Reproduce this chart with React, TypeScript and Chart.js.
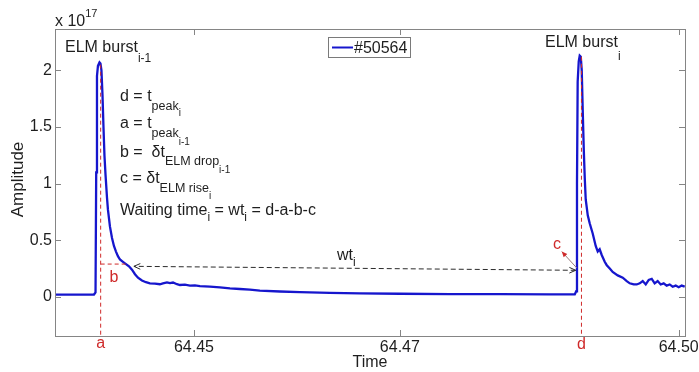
import React, { useEffect, useRef } from "react";
import { Chart, registerables } from "chart.js";

Chart.register(...registerables);

// ---------------- data ----------------
const SERIES_LABEL = "#50564";

const times = [
  64.43567, 64.43722, 64.43825, 64.43969, 64.43985, 64.43992, 64.44, 64.4401, 64.44026, 64.44036,
  64.44046, 64.44057, 64.44067, 64.44077, 64.44088, 64.44103, 64.44113, 64.44134, 64.44155, 64.44175,
  64.44196, 64.44216, 64.44237, 64.44268, 64.44299, 64.4433, 64.44361, 64.44392, 64.44423, 64.44464,
  64.44505, 64.44546, 64.44598, 64.44649, 64.4468, 64.44722, 64.44753, 64.44784, 64.44825, 64.44856,
  64.44907, 64.44959, 64.4501, 64.45062, 64.45165, 64.45268, 64.45371, 64.45474, 64.45577, 64.4568,
  64.45887, 64.46093, 64.46402, 64.46711, 64.47124, 64.47639, 64.48155, 64.4867, 64.48928, 64.48943,
  64.48951, 64.48958, 64.48969, 64.48979, 64.4899, 64.49, 64.4901, 64.49021, 64.49031, 64.49041,
  64.49062, 64.49082, 64.49113, 64.49144, 64.49165, 64.49185, 64.49206, 64.49237, 64.49258, 64.49289,
  64.49319, 64.49371, 64.49423, 64.49464, 64.49495, 64.49536, 64.49567, 64.49598, 64.49629, 64.4966,
  64.49691, 64.49722, 64.49752, 64.49783, 64.49814, 64.49845, 64.49876, 64.49907, 64.49938, 64.49969,
  64.5, 64.50031, 64.50062,
];

const amplitudes = [
  0.02, 0.021, 0.02, 0.021, 0.04, 1.1, 1.95, 2.04, 2.07, 2.06,
  2.0, 1.78, 1.5, 1.25, 1.08, 0.88, 0.77, 0.62, 0.52, 0.45,
  0.4, 0.36, 0.33, 0.31, 0.29, 0.27, 0.24, 0.2, 0.17, 0.145,
  0.13, 0.12, 0.118, 0.112, 0.12, 0.128, 0.122, 0.127, 0.112, 0.105,
  0.108, 0.1, 0.102, 0.095, 0.09, 0.085, 0.075, 0.07, 0.064, 0.056,
  0.048, 0.042, 0.036, 0.031, 0.028, 0.025, 0.024, 0.022, 0.022, 0.05,
  1.0, 1.9, 2.08, 2.13, 2.12, 2.0, 1.65, 1.3, 1.05, 0.86,
  0.72, 0.65, 0.56, 0.45, 0.4, 0.42, 0.37, 0.31, 0.28, 0.25,
  0.22, 0.19, 0.17, 0.14, 0.12, 0.11, 0.11, 0.12, 0.14, 0.11,
  0.15, 0.16, 0.12, 0.14, 0.11, 0.12, 0.1, 0.11, 0.09, 0.1,
  0.085, 0.1, 0.09,
];

const xTickValues = [64.45, 64.47124, 64.5];
const yTickValues = [0, 0.5, 1, 1.5, 2];
const xMin = 64.43567;
const xMax = 64.50065;
const yMin = -0.345;
const yMax = 2.365;
const exponent = "17";

// annotation anchors (data coordinates)
const tA = 64.44038;
const tD = 64.48997;
const peakA = 2.05;
const peakD = 2.12;
const bLevel = 0.29;
const bEnd = 64.4432;
const wtRight = [64.48938, 0.235];
const wtLeft = [64.44381, 0.27];
const cFrom = [64.48948, 0.256];
const cTo = [64.48794, 0.4];

// ---------------- drawing helpers ----------------
const FONT = '"Liberation Sans", Arial, Helvetica, sans-serif';
const TEXT = "#1e1e1e";
const RED = "#cf2a2a";
const BLUE = "rgb(22,22,205)";

type Seg = [string, number, number];

function drawRich(ctx: CanvasRenderingContext2D, x: number, y: number, segs: Seg[], color: string) {
  ctx.fillStyle = color;
  ctx.textAlign = "left";
  ctx.textBaseline = "alphabetic";
  let cx = x;
  for (const [t, size, dy] of segs) {
    ctx.font = `${size}px ${FONT}`;
    ctx.fillText(t, cx, y + dy);
    cx += ctx.measureText(t).width;
  }
}

function arrowHead(
  ctx: CanvasRenderingContext2D,
  fx: number,
  fy: number,
  tx: number,
  ty: number,
  len: number,
  filled: boolean
) {
  const ang = Math.atan2(ty - fy, tx - fx);
  const a1 = ang + Math.PI - 0.42;
  const a2 = ang + Math.PI + 0.42;
  ctx.beginPath();
  ctx.moveTo(tx + len * Math.cos(a1), ty + len * Math.sin(a1));
  ctx.lineTo(tx, ty);
  ctx.lineTo(tx + len * Math.cos(a2), ty + len * Math.sin(a2));
  if (filled) {
    ctx.closePath();
    ctx.fill();
  } else {
    ctx.stroke();
  }
}

const annotatePlugin = {
  id: "annotate",
  afterDraw(chart: any) {
    const ctx: CanvasRenderingContext2D = chart.ctx;
    const ca = chart.chartArea;
    const xs = chart.scales.x;
    const ys = chart.scales.y;
    const X = (v: number) => xs.getPixelForValue(v);
    const Y = (v: number) => ys.getPixelForValue(v);

    ctx.save();

    // axes box
    ctx.setLineDash([]);
    ctx.strokeStyle = "#858585";
    ctx.lineWidth = 1;
    ctx.strokeRect(Math.round(ca.left) + 0.5, Math.round(ca.top) + 0.5, Math.round(ca.width), Math.round(ca.height));

    // inward ticks on all four sides
    ctx.beginPath();
    for (const v of xTickValues) {
      const px = Math.round(X(v)) + 0.5;
      ctx.moveTo(px, ca.bottom);
      ctx.lineTo(px, ca.bottom - 6);
      ctx.moveTo(px, ca.top);
      ctx.lineTo(px, ca.top + 6);
    }
    for (const v of yTickValues) {
      const py = Math.round(Y(v)) + 0.5;
      ctx.moveTo(ca.left, py);
      ctx.lineTo(ca.left + 6, py);
      ctx.moveTo(ca.right, py);
      ctx.lineTo(ca.right - 6, py);
    }
    ctx.stroke();

    // red dashed markers a, d, b
    ctx.strokeStyle = RED;
    ctx.lineWidth = 1;
    ctx.setLineDash([4, 3]);
    ctx.beginPath();
    ctx.moveTo(X(tA), Y(peakA));
    ctx.lineTo(X(tA), ca.bottom);
    ctx.moveTo(X(tD), Y(peakD));
    ctx.lineTo(X(tD), ca.bottom);
    ctx.moveTo(X(tA), Y(bLevel));
    ctx.lineTo(X(bEnd), Y(bLevel));
    ctx.stroke();

    // waiting-time double arrow
    ctx.strokeStyle = "#2a2a2a";
    ctx.setLineDash([5, 3]);
    const rx = X(wtRight[0]), ry = Y(wtRight[1]);
    const lx = X(wtLeft[0]), ly = Y(wtLeft[1]);
    ctx.beginPath();
    ctx.moveTo(rx, ry);
    ctx.lineTo(lx, ly);
    ctx.stroke();
    ctx.setLineDash([]);
    arrowHead(ctx, rx, ry, lx, ly, 7, false);
    arrowHead(ctx, lx, ly, rx, ry, 7, false);

    // c arrow
    const cfx = X(cFrom[0]), cfy = Y(cFrom[1]);
    const ctx2 = X(cTo[0]), cty = Y(cTo[1]);
    ctx.strokeStyle = "#9a7c7c";
    ctx.beginPath();
    ctx.moveTo(cfx, cfy);
    ctx.lineTo(ctx2, cty);
    ctx.stroke();
    ctx.fillStyle = RED;
    arrowHead(ctx, cfx, cfy, ctx2, cty, 6, true);

    // red letters
    ctx.fillStyle = RED;
    ctx.font = `16px ${FONT}`;
    ctx.textAlign = "center";
    ctx.textBaseline = "alphabetic";
    ctx.fillText("a", X(tA), 348);
    ctx.fillText("d", X(tD), 349);
    ctx.fillText("b", 114, 282);
    ctx.fillText("c", 557, 249);

    // wt label
    drawRich(ctx, 337, 260, [["wt", 16, 0], ["i", 12, 6]], TEXT);

    // ELM burst labels
    drawRich(ctx, 65, 51.7, [["ELM burst", 16, 0], ["i-1", 12, 10]], TEXT);
    drawRich(ctx, 545, 47.3, [["ELM burst", 16, 0], ["i", 12, 13]], TEXT);

    // definitions block
    drawRich(ctx, 120, 100.7, [["d = t", 16, 0], ["peak", 12.5, 9.3], ["i", 10, 15.5]], TEXT);
    drawRich(ctx, 120, 128, [["a = t", 16, 0], ["peak", 12.5, 9], ["i-1", 10, 17]], TEXT);
    drawRich(ctx, 120, 156.7, [["b =  δt", 16, 0], ["ELM drop", 12.5, 8], ["i-1", 10, 16]], TEXT);
    drawRich(ctx, 120, 183.3, [["c = δt", 16, 0], ["ELM rise", 12.5, 9], ["i", 10, 16]], TEXT);
    drawRich(
      ctx,
      120,
      215,
      [["Waiting time", 16, 0], ["i", 12, 6], [" = wt", 16, 0], ["i", 12, 6], [" = d-a-b-c", 16, 0]],
      TEXT
    );

    // exponent label
    drawRich(ctx, 55, 26, [["x 10", 16, 0], [exponent, 11, -9.3]], TEXT);

    // axis titles
    ctx.fillStyle = TEXT;
    ctx.font = `16px ${FONT}`;
    ctx.textAlign = "center";
    ctx.fillText("Time", (ca.left + ca.right) / 2, 367);
    ctx.save();
    ctx.translate(18.5, (ca.top + ca.bottom) / 2 - 3);
    ctx.rotate(-Math.PI / 2);
    ctx.font = `17px ${FONT}`;
    ctx.textBaseline = "middle";
    ctx.fillText("Amplitude", 0, 0);
    ctx.restore();

    // legend
    ctx.setLineDash([]);
    ctx.fillStyle = "#ffffff";
    ctx.fillRect(328.5, 37.5, 82, 20);
    ctx.strokeStyle = "#7a7a7a";
    ctx.lineWidth = 1;
    ctx.strokeRect(328.5, 37.5, 82, 20);
    ctx.strokeStyle = BLUE;
    ctx.lineWidth = 2;
    ctx.beginPath();
    ctx.moveTo(332, 47.5);
    ctx.lineTo(353, 47.5);
    ctx.stroke();
    ctx.fillStyle = TEXT;
    ctx.font = `16px ${FONT}`;
    ctx.textAlign = "left";
    ctx.fillText(chart.data.datasets[0].label, 354, 53.3);

    ctx.restore();
  },
};

export default function App() {
  const canvasRef = useRef<HTMLCanvasElement | null>(null);

  useEffect(() => {
    if (!canvasRef.current) return;
    const points = times.map((t, i) => ({ x: t, y: amplitudes[i] }));
    const chart = new Chart(canvasRef.current, {
      type: "line",
      data: {
        datasets: [
          {
            label: SERIES_LABEL,
            data: points,
            borderColor: BLUE,
            borderWidth: 2.3,
            pointRadius: 0,
            tension: 0,
            fill: false,
          },
        ],
      },
      options: {
        animation: false,
        responsive: false,
        devicePixelRatio: 1,
        layout: { padding: { left: 0, top: 29, right: 14, bottom: 0 } },
        plugins: { legend: { display: false }, tooltip: { enabled: false }, title: { display: false } },
        scales: {
          x: {
            type: "linear",
            min: xMin,
            max: xMax,
            grid: { display: false, drawTicks: false },
            border: { display: false },
            afterBuildTicks: (s: any) => {
              s.ticks = xTickValues.map((v) => ({ value: v }));
            },
            afterFit: (s: any) => {
              s.height = 36;
              s.paddingLeft = 0;
              s.paddingRight = 0;
            },
            ticks: {
              autoSkip: false,
              maxRotation: 0,
              padding: 2,
              color: TEXT,
              font: { size: 16, family: FONT },
              callback: (v: any) => Number(v).toFixed(2),
            },
          },
          y: {
            type: "linear",
            min: yMin,
            max: yMax,
            grid: { display: false, drawTicks: false },
            border: { display: false },
            afterBuildTicks: (s: any) => {
              s.ticks = yTickValues.map((v) => ({ value: v }));
            },
            afterFit: (s: any) => {
              s.width = 55;
              s.paddingTop = 0;
              s.paddingBottom = 0;
            },
            ticks: {
              padding: 3,
              color: TEXT,
              font: { size: 16, family: FONT },
              callback: (v: any) => String(v),
            },
          },
        },
      },
      plugins: [annotatePlugin],
    });
    return () => chart.destroy();
  }, []);

  return (
    <div style={{ position: "fixed", left: 0, top: 0, width: 699, height: 372, background: "#fff" }}>
      <canvas ref={canvasRef} width={699} height={372} />
    </div>
  );
}
